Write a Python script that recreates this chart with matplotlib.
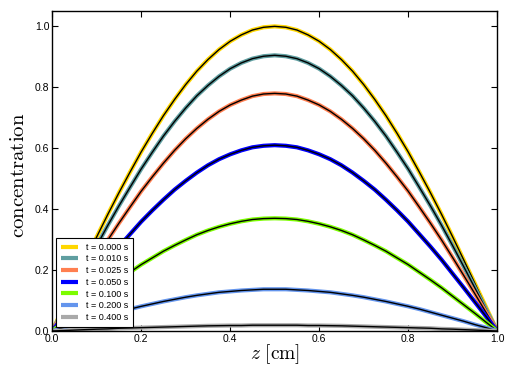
import matplotlib
matplotlib.use("Agg")
import matplotlib.pyplot as plt

plt.rcParams['mathtext.fontset'] = 'cm'
plt.rcParams['font.family'] = ['Liberation Sans', 'DejaVu Sans']

# z positions for the left half of the profile (curves are symmetric about z = 0.5)
z_half = [0.000, 0.025, 0.050, 0.075, 0.100, 0.125, 0.150, 0.175, 0.200, 0.225, 0.250,
          0.275, 0.300, 0.325, 0.350, 0.375, 0.400, 0.425, 0.450, 0.475, 0.500]

c_t000 = [0, 0.0785, 0.156, 0.233, 0.309, 0.383, 0.454, 0.522, 0.588, 0.649, 0.707,
          0.760, 0.809, 0.853, 0.891, 0.924, 0.951, 0.972, 0.988, 0.997, 1.000]
c_t010 = [0, 0.071, 0.141, 0.211, 0.280, 0.347, 0.411, 0.472, 0.532, 0.587, 0.640,
          0.688, 0.732, 0.772, 0.806, 0.836, 0.861, 0.880, 0.894, 0.902, 0.905]
c_t025 = [0, 0.061, 0.122, 0.182, 0.241, 0.299, 0.354, 0.407, 0.459, 0.506, 0.551,
          0.593, 0.631, 0.665, 0.695, 0.721, 0.742, 0.758, 0.771, 0.778, 0.780]
c_t050 = [0, 0.048, 0.095, 0.142, 0.188, 0.234, 0.277, 0.318, 0.359, 0.396, 0.431,
          0.464, 0.493, 0.520, 0.544, 0.564, 0.580, 0.593, 0.603, 0.608, 0.610]
c_t100 = [0, 0.029, 0.058, 0.086, 0.114, 0.142, 0.168, 0.193, 0.218, 0.240, 0.262,
          0.281, 0.299, 0.316, 0.330, 0.342, 0.352, 0.360, 0.366, 0.369, 0.370]
c_t200 = [0, 0.011, 0.021, 0.032, 0.042, 0.052, 0.062, 0.072, 0.081, 0.089, 0.097,
          0.104, 0.111, 0.117, 0.122, 0.127, 0.130, 0.133, 0.135, 0.137, 0.137]
c_t400 = [0, 0.0015, 0.003, 0.0045, 0.006, 0.007, 0.009, 0.010, 0.011, 0.012, 0.013,
          0.014, 0.015, 0.016, 0.017, 0.0175, 0.018, 0.018, 0.019, 0.019, 0.019]

series = [c_t000, c_t010, c_t025, c_t050, c_t100, c_t200, c_t400]
labels = ["t = 0.000 s", "t = 0.010 s", "t = 0.025 s", "t = 0.050 s",
          "t = 0.100 s", "t = 0.200 s", "t = 0.400 s"]
colors = ["gold", "cadetblue", "coral", "blue", "lawngreen", "cornflowerblue", "darkgray"]
xticks = [0.0, 0.2, 0.4, 0.6, 0.8, 1.0]
yticks = [0.0, 0.2, 0.4, 0.6, 0.8, 1.0]

# full profile: mirror the left half about z = 0.5
z_full = z_half + [1.0 - v for v in z_half[-2::-1]]

fig = plt.figure(figsize=(5.12, 3.84), dpi=100)
ax = fig.add_axes([0.102, 0.138, 0.869, 0.833])

for vals, lab, col in zip(series, labels, colors):
    full = vals + vals[-2::-1]
    ax.plot(z_full, full, color=col, lw=3, label=lab, solid_capstyle='butt')
    ax.plot(z_full, full, color='black', lw=1)

ax.set_xlim(0, 1)
ax.set_ylim(0, 1.05)
ax.set_xticks(xticks)
ax.set_yticks(yticks)
ax.set_xticklabels([f"{v:.1f}" for v in xticks])
ax.set_yticklabels([f"{v:.1f}" for v in yticks])
ax.tick_params(direction='in', top=True, right=True, length=4, labelsize=7.5, width=0.8, pad=2)
for s in ax.spines.values():
    s.set_linewidth(1.0)

ax.set_xlabel(r"$z\ [\mathrm{cm}]$", fontsize=14, labelpad=-1)
ax.set_ylabel(r"$\mathrm{concentration}$", fontsize=15)
ax.yaxis.set_label_coords(-0.054, 0.4875)

leg = ax.legend(loc='lower left', fontsize=6.5, fancybox=False, framealpha=1,
                edgecolor='black', borderaxespad=0.45, handlelength=1.8,
                handletextpad=0.9, labelspacing=0.3, borderpad=0.55)
leg.get_frame().set_linewidth(0.8)

fig.savefig("out.png", dpi=100, facecolor='white')
